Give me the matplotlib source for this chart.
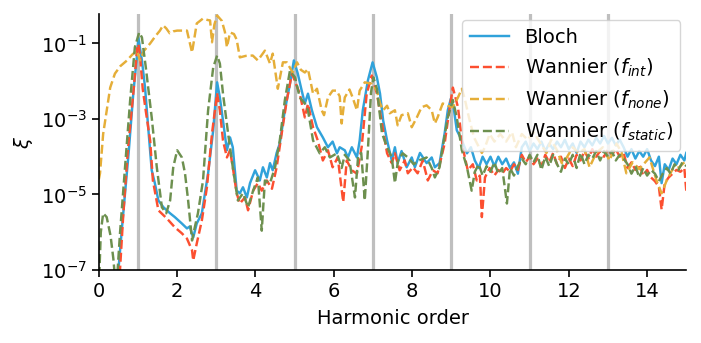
import matplotlib
matplotlib.use("Agg")
import matplotlib.pyplot as plt
import numpy as np

# harmonic order / log10(xi)
bloch_x = [0.40, 0.50, 0.60, 0.76, 0.88, 0.98, 1.01, 1.10, 1.18, 1.26, 1.35, 1.43, 1.52, 1.65, 1.82, 1.94,
           2.12, 2.25, 2.32, 2.41, 2.50, 2.63, 2.79, 2.92, 3.02, 3.09, 3.17, 3.27, 3.35, 3.42, 3.52, 3.60,
           3.68, 3.78, 3.86, 3.99, 4.11, 4.19, 4.29, 4.37, 4.44, 4.54, 4.62, 4.75, 4.88, 4.98, 5.08, 5.18,
           5.26, 5.34, 5.44, 5.57, 5.72, 5.85, 5.97, 6.08, 6.15, 6.28, 6.36, 6.46, 6.59, 6.66, 6.74, 6.87,
           6.99, 7.10, 7.18, 7.26, 7.36, 7.48, 7.56, 7.63, 7.73, 7.86, 7.99, 8.07, 8.20, 8.37, 8.50, 8.58,
           8.70, 8.83, 8.91, 8.99, 9.06, 9.14, 9.27, 9.40, 9.50, 9.60, 9.70, 9.80, 9.90, 10.0, 10.1, 10.2,
           10.3, 10.4, 10.5, 10.6, 10.7, 10.8, 10.9, 11.0, 11.1, 11.2, 11.3, 11.4, 11.5, 11.6, 11.7, 11.8,
           11.9, 12.0, 12.1, 12.2, 12.3, 12.4, 12.5, 12.6, 12.7, 12.8, 12.9, 13.0, 13.1, 13.2, 13.3, 13.4,
           13.5, 13.6, 13.7, 13.8, 13.9, 14.0, 14.1, 14.2, 14.3, 14.37, 14.45, 14.55, 14.65, 14.75, 14.85,
           14.95, 15.0]
bloch_log = [-7.8, -7.0, -5.77, -3.91, -2.32, -1.26, -0.85, -1.45, -2.17, -3.22, -4.36, -4.7, -5.16, -5.34,
             -5.5, -5.6, -5.77, -5.9, -5.85, -6.14, -5.77, -5.5, -4.44, -3.3, -2.03, -2.43, -3.04, -3.83,
             -3.49, -3.75, -4.9, -4.97, -4.81, -5.08, -4.7, -4.36, -4.63, -4.28, -4.55, -4.17, -4.36, -3.9,
             -3.65, -2.77, -2.07, -1.45, -1.8, -2.25, -2.59, -2.33, -2.77, -3.22, -3.49, -3.75, -3.6, -3.91,
             -3.75, -3.83, -4.02, -3.75, -4.02, -3.57, -2.77, -1.98, -1.5, -1.9, -2.33, -3.04, -3.57, -4.1,
             -3.75, -4.17, -3.85, -4.28, -4.02, -4.28, -3.9, -4.17, -4.02, -4.28, -4.17, -3.38, -2.77, -2.46,
             -2.7, -3.3, -3.57, -3.91, -3.75, -4.1, -4.3, -4.0, -4.2, -4.0, -4.25, -4.0, -4.2, -4.05, -4.3,
             -4.15, -4.45, -3.75, -3.6, -3.85, -3.65, -3.8, -3.6, -3.85, -3.65, -3.8, -3.6, -3.75, -3.55,
             -3.8, -3.65, -3.9, -3.6, -3.75, -3.55, -3.7, -3.5, -3.65, -3.45, -3.65, -3.5, -3.7, -3.55, -3.75,
             -4.0, -3.8, -4.05, -3.85, -4.0, -3.8, -4.1, -4.25, -4.0, -4.7, -4.2, -4.35, -4.05, -4.2, -3.95,
             -4.1, -3.9]

fint_x = [0.45, 0.54, 0.62, 0.74, 0.88, 0.98, 1.01, 1.05, 1.12, 1.20, 1.31, 1.38, 1.52, 1.74, 1.94, 2.12,
          2.25, 2.38, 2.41, 2.50, 2.63, 2.76, 2.89, 3.02, 3.09, 3.17, 3.27, 3.35, 3.42, 3.52, 3.60, 3.73,
          3.81, 3.94, 4.06, 4.16, 4.29, 4.42, 4.54, 4.67, 4.80, 4.93, 5.00, 5.13, 5.26, 5.34, 5.47, 5.59,
          5.72, 5.85, 5.97, 6.10, 6.24, 6.33, 6.46, 6.59, 6.71, 6.84, 6.97, 7.10, 7.23, 7.36, 7.48, 7.56,
          7.68, 7.81, 7.89, 8.02, 8.14, 8.27, 8.40, 8.53, 8.65, 8.83, 8.96, 9.04, 9.17, 9.29, 9.42, 9.55,
          9.65, 9.73, 9.78, 9.86, 9.98, 10.1, 10.2, 10.3, 10.4, 10.5, 10.6, 10.7, 10.8, 10.9, 11.0, 11.1,
          11.2, 11.3, 11.4, 11.5, 11.6, 11.7, 11.8, 11.9, 12.0, 12.1, 12.2, 12.3, 12.4, 12.5, 12.6, 12.7,
          12.8, 12.9, 13.0, 13.1, 13.2, 13.3, 13.4, 13.5, 13.6, 13.7, 13.8, 13.9, 14.0, 14.1, 14.2, 14.3,
          14.37, 14.45, 14.55, 14.65, 14.75, 14.85, 14.95, 15.0]
fint_log = [-7.8, -7.0, -5.6, -3.83, -2.32, -1.1, -1.02, -1.3, -2.2, -2.8, -3.57, -4.63, -5.42, -5.64, -5.87,
            -6.03, -6.17, -6.48, -6.75, -6.3, -5.69, -4.81, -3.38, -2.32, -2.77, -3.57, -4.02, -3.83, -4.28,
            -4.97, -5.24, -5.08, -5.42, -4.9, -4.7, -4.9, -4.63, -4.85, -4.28, -3.38, -2.5, -1.8, -1.98,
            -2.33, -2.96, -2.6, -3.22, -3.57, -4.1, -3.83, -4.28, -4.02, -5.2, -4.1, -4.36, -4.45, -3.75,
            -2.33, -1.85, -2.33, -3.12, -3.91, -4.17, -3.91, -4.36, -4.1, -4.44, -4.28, -4.44, -4.1, -4.63,
            -4.36, -4.44, -3.65, -2.69, -2.17, -2.69, -3.75, -4.36, -4.2, -4.63, -4.5, -5.6, -4.55, -4.3,
            -4.5, -4.35, -4.45, -4.3, -4.4, -4.2, -4.35, -3.95, -4.15, -4.0, -4.2, -4.05, -4.25, -3.95,
            -4.15, -3.9, -4.2, -4.0, -4.3, -4.05, -4.25, -3.95, -4.1, -3.85, -4.05, -3.8, -4.0, -3.85, -4.0,
            -3.8, -3.95, -3.8, -4.0, -3.9, -4.3, -4.15, -4.35, -4.2, -4.5, -4.35, -4.55, -4.65, -4.8, -5.4,
            -4.7, -4.55, -4.45, -4.35, -4.4, -4.3, -4.9]

fnone_x = [0.0, 0.03, 0.11, 0.29, 0.41, 0.55, 0.72, 0.85, 0.97, 1.05, 1.15, 1.31, 1.45, 1.56, 1.64, 1.72,
           1.81, 1.90, 2.00, 2.12, 2.25, 2.38, 2.50, 2.66, 2.78, 2.84, 2.89, 2.95, 3.02, 3.14, 3.22, 3.27,
           3.35, 3.45, 3.52, 3.60, 3.75, 3.93, 4.06, 4.24, 4.37, 4.44, 4.57, 4.70, 4.80, 4.95, 5.06, 5.16,
           5.26, 5.34, 5.47, 5.57, 5.69, 5.75, 5.85, 5.97, 6.07, 6.15, 6.20, 6.28, 6.40, 6.48, 6.59, 6.66,
           6.79, 6.97, 7.10, 7.18, 7.26, 7.36, 7.43, 7.56, 7.63, 7.73, 7.89, 7.99, 8.12, 8.24, 8.37, 8.50,
           8.58, 8.65, 8.78, 8.91, 9.04, 9.17, 9.27, 9.35, 9.45, 9.58, 9.78, 9.86, 9.98, 10.1, 10.25, 10.4,
           10.55, 10.65, 10.8, 10.95, 11.1, 11.25, 11.43, 11.55, 11.7, 11.82, 11.95, 12.1, 12.25, 12.4,
           12.53, 12.7, 12.87, 13.04, 13.22, 13.35, 13.47, 13.63, 13.8, 14.06, 14.24, 14.37, 14.5, 14.65,
           14.82, 15.0]
fnone_log = [-4.6, -4.44, -3.4, -2.17, -1.8, -1.6, -1.45, -1.3, -1.19, -1.45, -1.2, -1.0, -0.8, -0.66, -0.52,
             -0.6, -0.73, -0.68, -0.66, -0.66, -0.66, -1.24, -0.47, -0.34, -0.38, -0.39, -0.97, -0.5, -0.26,
             -0.4, -0.7, -1.1, -0.71, -0.75, -0.9, -1.37, -1.33, -1.32, -1.45, -1.19, -1.53, -1.27, -2.2,
             -1.5, -1.5, -1.77, -1.5, -1.7, -1.77, -1.68, -2.33, -2.2, -2.77, -2.9, -2.43, -2.25, -2.25,
             -2.4, -3.12, -2.43, -2.22, -2.43, -2.77, -2.25, -2.03, -2.07, -2.25, -2.59, -2.77, -2.65, -2.85,
             -2.77, -3.17, -2.9, -2.85, -3.22, -2.96, -2.69, -2.64, -2.77, -3.12, -2.96, -2.59, -2.65, -2.69,
             -2.43, -2.2, -2.5, -2.96, -3.49, -3.9, -3.75, -3.4, -3.6, -3.4, -3.6, -3.35, -3.75, -3.4, -3.55,
             -3.35, -3.6, -3.9, -3.55, -3.83, -4.17, -4.02, -3.75, -3.9, -3.8, -4.28, -3.9, -3.75, -4.1,
             -3.65, -3.9, -4.44, -4.15, -4.33, -4.02, -4.63, -4.97, -4.63, -4.33, -4.28, -4.1]

fstatic_x = [0.0, 0.05, 0.11, 0.20, 0.30, 0.37, 0.42, 0.48, 0.54, 0.67, 0.80, 0.92, 1.03, 1.10, 1.20, 1.35,
             1.48, 1.61, 1.72, 1.82, 1.90, 2.00, 2.12, 2.20, 2.28, 2.38, 2.45, 2.53, 2.66, 2.79, 2.92, 3.02,
             3.09, 3.17, 3.30, 3.42, 3.55, 3.68, 3.81, 3.94, 4.06, 4.16, 4.24, 4.37, 4.50, 4.62, 4.75, 4.88,
             5.01, 5.13, 5.26, 5.34, 5.47, 5.64, 5.77, 5.90, 6.08, 6.20, 6.28, 6.40, 6.54, 6.62, 6.70, 6.79,
             6.87, 6.95, 7.01, 7.10, 7.23, 7.36, 7.48, 7.56, 7.64, 7.76, 7.89, 8.04, 8.17, 8.37, 8.50, 8.58,
             8.70, 8.78, 8.91, 9.04, 9.14, 9.27, 9.40, 9.52, 9.60, 9.70, 9.80, 9.90, 10.0, 10.1, 10.2, 10.3,
             10.42, 10.5, 10.6, 10.7, 10.8, 10.9, 11.0, 11.1, 11.2, 11.3, 11.4, 11.5, 11.6, 11.7, 11.8, 11.9,
             12.0, 12.1, 12.2, 12.3, 12.4, 12.5, 12.6, 12.7, 12.8, 12.9, 13.0, 13.1, 13.2, 13.3, 13.4, 13.5,
             13.6, 13.7, 13.8, 13.9, 14.0, 14.1, 14.2, 14.3, 14.4, 14.5, 14.6, 14.7, 14.8, 14.9, 15.0]
fstatic_log = [-7.5, -6.0, -5.5, -5.6, -6.1, -6.7, -7.3, -7.0, -6.03, -4.28, -2.5, -1.1, -0.71, -0.84, -1.64,
               -2.96, -4.28, -5.34, -5.5, -5.16, -4.28, -3.83, -4.02, -4.44, -5.16, -6.22, -5.87, -5.5,
               -4.63, -2.77, -1.64, -1.32, -1.53, -2.33, -3.38, -4.28, -5.16, -4.97, -5.34, -4.9, -4.55,
               -5.96, -4.63, -4.7, -4.28, -3.57, -2.5, -1.72, -1.9, -2.43, -2.59, -2.77, -3.57, -3.91, -3.75,
               -4.02, -3.91, -4.3, -3.95, -4.1, -5.08, -4.0, -3.9, -5.16, -3.83, -2.3, -1.9, -2.2, -3.38,
               -3.75, -4.02, -4.7, -4.1, -3.91, -4.02, -4.2, -4.1, -4.02, -4.3, -4.55, -4.28, -3.75, -2.96,
               -2.5, -2.96, -3.83, -4.28, -4.9, -4.4, -4.2, -4.5, -4.25, -4.4, -4.15, -4.45, -4.3, -5.24,
               -4.3, -4.5, -4.25, -4.05, -4.2, -3.95, -4.15, -3.95, -4.35, -4.0, -4.25, -3.95, -4.2, -4.4,
               -4.05, -4.2, -3.95, -4.3, -3.9, -4.2, -3.95, -4.05, -3.85, -4.1, -3.85, -4.0, -3.85, -4.1,
               -3.95, -4.05, -4.2, -4.45, -4.25, -4.55, -4.3, -4.5, -4.35, -4.45, -4.65, -4.45, -4.3, -4.45,
               -4.2, -4.35, -4.15, -4.25]

odd_harmonics = [1, 3, 5, 7, 9, 11, 13]

plt.rcParams['font.family'] = 'DejaVu Sans'
plt.rcParams['mathtext.fontset'] = 'dejavusans'

fig = plt.figure(figsize=(7.01, 3.43), dpi=100)
ax = fig.add_axes([0.141, 0.213, 0.838, 0.746])

for h in odd_harmonics:
    ax.axvline(h, color='#bfbfbf', linewidth=2.3, zorder=0)

LW = 1.75
ax.plot(bloch_x, 10.0 ** np.array(bloch_log), color='#30a2da', lw=LW, label='Bloch')
ax.plot(fint_x, 10.0 ** np.array(fint_log), color='#fc4f30', lw=LW, ls='--', label='Wannier ($f_{int}$)')
ax.plot(fnone_x, 10.0 ** np.array(fnone_log), color='#e5ae38', lw=LW, ls='--', label='Wannier ($f_{none}$)')
ax.plot(fstatic_x, 10.0 ** np.array(fstatic_log), color='#6d904f', lw=LW, ls='--', label='Wannier ($f_{static}$)')

ax.set_yscale('log')
ax.set_xlim(0, 15)
ax.set_ylim(1e-7, 0.6)
ax.set_yticks([1e-7, 1e-5, 1e-3, 1e-1])
ax.yaxis.set_minor_locator(matplotlib.ticker.NullLocator())
ax.set_xticks([0, 2, 4, 6, 8, 10, 12, 14])
ax.tick_params(labelsize=14, width=1.2, length=5)
for side in ['left', 'bottom']:
    ax.spines[side].set_linewidth(1.2)
ax.spines['top'].set_visible(False)
ax.spines['right'].set_visible(False)
ax.set_xlabel('Harmonic order', fontsize=14, labelpad=6)
ax.set_ylabel(r'$\xi$', fontsize=14)

ax.legend(loc='upper right', fontsize=14, borderaxespad=0.3, handlelength=2.0)

fig.savefig('out.png', dpi=100)
